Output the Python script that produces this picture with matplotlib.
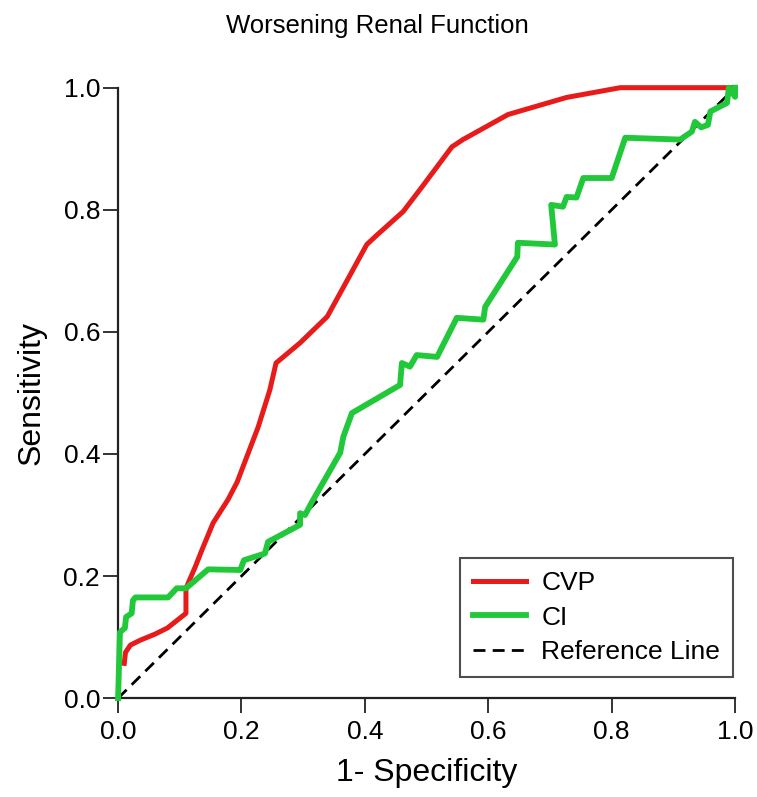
import numpy as np
import matplotlib.pyplot as plt

plt.rcParams['font.family'] = ['Liberation Sans', 'DejaVu Sans']

# CVP ROC curve (1-specificity, sensitivity)
cvp_x = [0.010, 0.012, 0.020, 0.036, 0.060, 0.080, 0.110, 0.110, 0.125, 0.136, 0.154,
         0.178, 0.193, 0.227, 0.246, 0.256, 0.295, 0.339, 0.370, 0.403, 0.420, 0.462,
         0.493, 0.541, 0.559, 0.632, 0.727, 0.814, 1.000]
cvp_y = [0.057, 0.075, 0.087, 0.095, 0.105, 0.115, 0.139, 0.180, 0.215, 0.243, 0.287,
         0.325, 0.354, 0.444, 0.505, 0.549, 0.582, 0.625, 0.682, 0.743, 0.759, 0.797,
         0.838, 0.903, 0.915, 0.956, 0.984, 1.000, 1.000]

# CI ROC curve
ci_x = [0.000, 0.003, 0.011, 0.013, 0.022, 0.024, 0.028, 0.081, 0.095, 0.110, 0.146,
        0.198, 0.204, 0.238, 0.243, 0.295, 0.295, 0.303, 0.314, 0.360, 0.365, 0.379,
        0.457, 0.460, 0.473, 0.484, 0.517, 0.549, 0.592, 0.595, 0.647, 0.648, 0.708,
        0.702, 0.721, 0.727, 0.743, 0.754, 0.800, 0.822, 0.911, 0.930, 0.935, 0.945,
        0.956, 0.960, 0.987, 0.990, 1.000, 1.000]
ci_y = [0.000, 0.108, 0.115, 0.133, 0.139, 0.160, 0.165, 0.165, 0.180, 0.180, 0.211,
        0.210, 0.226, 0.237, 0.256, 0.284, 0.303, 0.300, 0.321, 0.402, 0.428, 0.467,
        0.513, 0.549, 0.543, 0.562, 0.559, 0.623, 0.620, 0.641, 0.723, 0.746, 0.743,
        0.808, 0.805, 0.821, 0.820, 0.852, 0.852, 0.918, 0.915, 0.928, 0.944, 0.935,
        0.939, 0.961, 0.975, 1.000, 0.985, 1.000]

ticks = [0.0, 0.2, 0.4, 0.6, 0.8, 1.0]

fig = plt.figure(figsize=(7.57, 7.97), dpi=100)
ax = fig.add_axes([0.156, 0.124, 0.815, 0.766])

ax.plot(cvp_x, cvp_y, color='#e81b1b', lw=3.6, label='CVP', clip_on=False, zorder=3)
ax.plot(ci_x, ci_y, color='#20c83a', lw=4.2, label='CI', clip_on=False, zorder=4)
ax.plot([0, 1], [0, 1], color='black', lw=2.0, ls=(0, (4.3, 2.6)), label='Reference Line',
        zorder=2)

ax.set_xlim(0, 1)
ax.set_ylim(0, 1)
ax.set_xticks(ticks)
ax.set_yticks(ticks)
ax.set_xticklabels(['%.1f' % t for t in ticks])
ax.set_yticklabels(['%.1f' % t for t in ticks])
ax.tick_params(labelsize=19, length=11, width=1.4, direction='out', color='#333333')
ax.tick_params(axis='x', pad=5)
ax.tick_params(axis='y', pad=2)
for s in ['top', 'right']:
    ax.spines[s].set_visible(False)
for s in ['left', 'bottom']:
    ax.spines[s].set_linewidth(1.6)
    ax.spines[s].set_color('#222222')

ax.set_xlabel('1- Specificity', fontsize=23, labelpad=10)
ax.set_ylabel('Sensitivity', fontsize=23, labelpad=12)
fig.text(0.498, 0.983, 'Worsening Renal Function', fontsize=18.5, ha='center', va='top')

leg = ax.legend(loc='lower right', bbox_to_anchor=(0.997, 0.034), borderaxespad=0,
                fontsize=19, frameon=True, fancybox=False, edgecolor='#222222',
                handlelength=2.0, borderpad=0.5, labelspacing=0.4, handletextpad=0.57)
leg.get_frame().set_linewidth(1.5)

plt.savefig('out.png', dpi=100)
